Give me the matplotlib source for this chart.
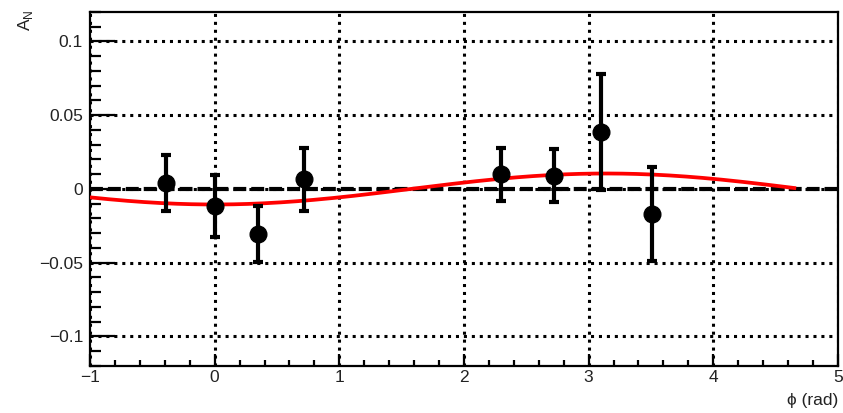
import matplotlib
matplotlib.use('Agg')
import matplotlib.pyplot as plt
import numpy as np
from matplotlib.ticker import MultipleLocator

plt.rcParams['font.family'] = ['Liberation Sans', 'DejaVu Sans']

# measured points
phi    = [-0.39, 0.00, 0.35, 0.72, 2.30, 2.72, 3.10, 3.51]
a_n    = [0.004, -0.0115, -0.0305, 0.0066, 0.010, 0.009, 0.0385, -0.017]
a_err  = [0.019, 0.021, 0.019, 0.0215, 0.018, 0.018, 0.0395, 0.032]

# fit: A_N = amp * cos(phi - phase), drawn over the fit range
fit_amp   = -0.0105
fit_phase = 0.0
fit_range = (-1.0, 4.65)

y_ticks  = [-0.1, -0.05, 0, 0.05, 0.1]
y_labels = ['\u22120.1', '\u22120.05', '0', '0.05', '0.1']
x_ticks  = [-1, 0, 1, 2, 3, 4, 5]
x_labels = ['\u22121', '0', '1', '2', '3', '4', '5']

txt = '#222222'

fig = plt.figure(figsize=(8.43, 4.13), dpi=100)
ax = fig.add_axes([0.1068, 0.1138, 0.8872, 0.8572])

ax.set_xlim(-1, 5)
ax.set_ylim(-0.12, 0.12)

# dotted grid
ax.set_xticks(x_ticks)
ax.set_yticks(y_ticks)
ax.grid(True, which='major', color='black', lw=2.2, linestyle=(0, (1, 1.6)), zorder=0)

# zero line
ax.axhline(0, color='black', lw=3, linestyle=(0, (3.1, 1.2)), zorder=2)

# fit curve
xf = np.linspace(fit_range[0], fit_range[1], 300)
ax.plot(xf, fit_amp * np.cos(xf - fit_phase), color='#ff0000', lw=2.7, zorder=3)

# data
ax.errorbar(phi, a_n, yerr=a_err, fmt='o', color='black', ms=12,
            elinewidth=3, capsize=3.3, capthick=3, zorder=4)

ax.set_xticklabels(x_labels, fontsize=12.5, color=txt)
ax.set_yticklabels(y_labels, fontsize=12.5, color=txt)
ax.xaxis.set_minor_locator(MultipleLocator(0.2))
ax.yaxis.set_minor_locator(MultipleLocator(0.01))
ax.tick_params(axis='y', which='major', direction='in', length=18, width=1.6, pad=5, right=False)
ax.tick_params(axis='y', which='minor', direction='in', length=8, width=1.6, right=False)
ax.tick_params(axis='x', which='major', direction='in', length=9, width=1.6, pad=3, top=False)
ax.tick_params(axis='x', which='minor', direction='in', length=4.5, width=1.6, top=False)
for s in ax.spines.values():
    s.set_linewidth(1.6)

fig.text(0.030, 0.950, r'A$_{\mathregular{N}}$', rotation=90, fontsize=12.5, color=txt,
         ha='center', va='center')
fig.text(0.994, 0.031, '\u03d5 (rad)', fontsize=12.5, color=txt, ha='right', va='center')

plt.savefig('out.png', dpi=100, facecolor='white')
plt.close()
